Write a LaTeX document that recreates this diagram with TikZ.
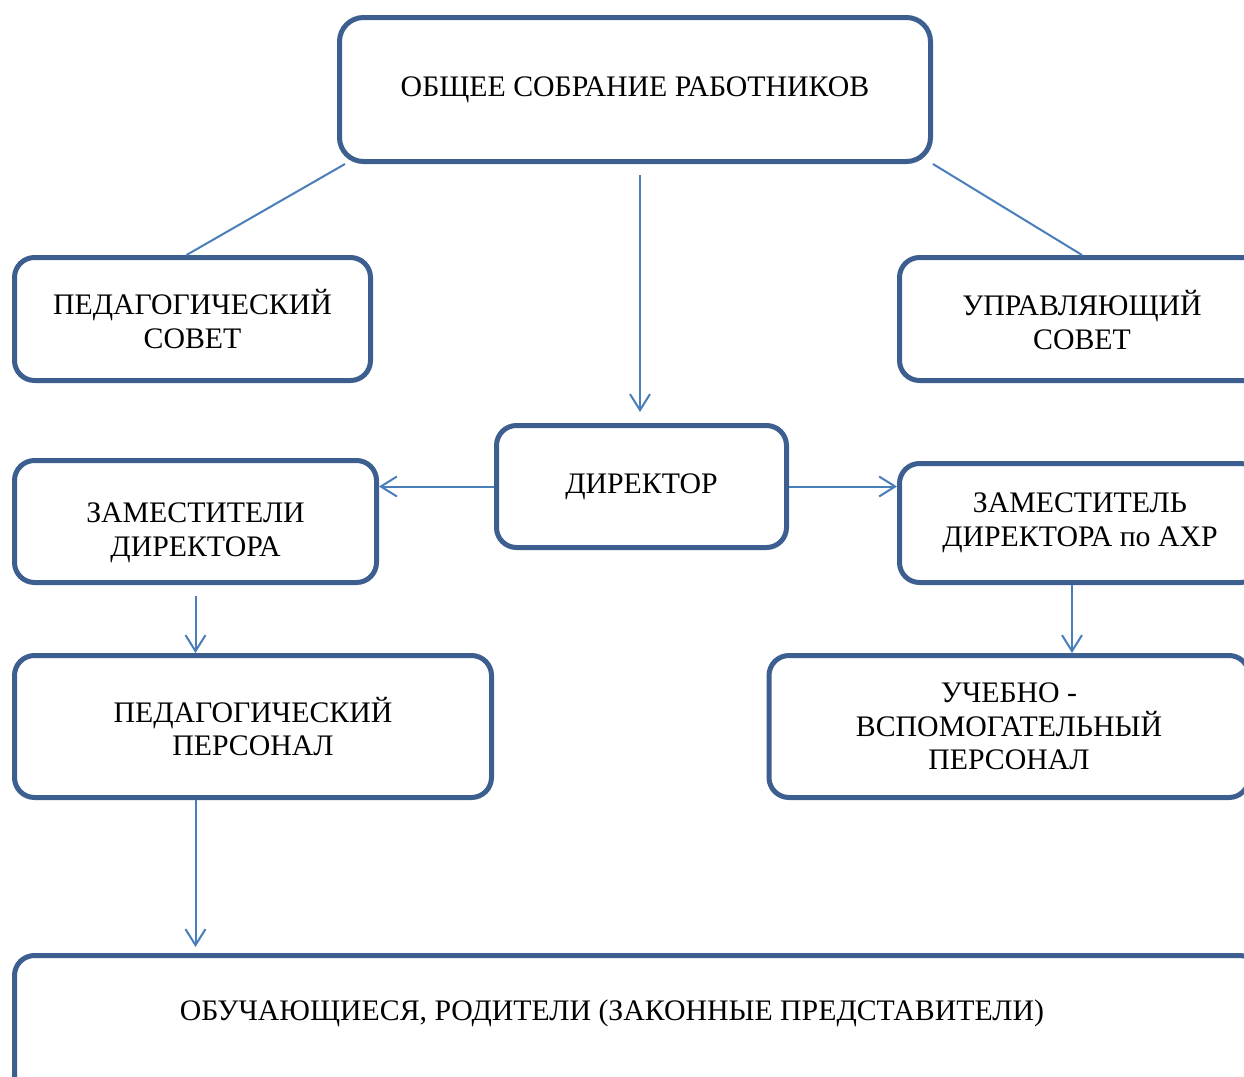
\documentclass[tikz,border=0pt]{standalone}
\usepackage{fontspec}
\setmainfont{Liberation Serif}
\usetikzlibrary{arrows.meta,calc}
\definecolor{boxblue}{HTML}{3C5F8F}
\definecolor{lineblue}{HTML}{4A7EBB}
\newcommand{\lowered}[2]{\raisebox{#1}[\height][\depth]{\begin{tabular}{@{}c@{}}#2\end{tabular}}}
\begin{document}
\begin{tikzpicture}[x=0.5pt,y=-0.5pt,
  box/.style={draw=boxblue, line width=2.5pt, rounded corners=10pt, align=center,
    font=\fontsize{14.9}{16.8}\selectfont, inner sep=0pt},
  link/.style={draw=lineblue, line width=1pt},
  arr/.style={link, -{Straight Barb[length=8pt,width=10pt,line width=1pt]}}]
\useasboundingbox (0,0) rectangle (1244,1077);
\clip (0,0) rectangle (1244,1077);
\node[box, rounded corners=12pt, minimum width=295.5pt, minimum height=72pt] (b1) at (635,89.5) {ОБЩЕЕ СОБРАНИЕ РАБОТНИКОВ};
\node[box, minimum width=178pt, minimum height=61.5pt] (b2) at (192.5,319) {ПЕДАГОГИЧЕСКИЙ\\СОВЕТ};
\node[box, minimum width=182.5pt, minimum height=61.5pt] (b3) at (1082,319) {\lowered{-3pt}{УПРАВЛЯЮЩИЙ\\СОВЕТ}};
\node[box, minimum width=145pt, minimum height=61pt] (b4) at (641.5,486.5) {ДИРЕКТОР};
\node[box, minimum width=181pt, minimum height=61pt] (b5) at (195.5,521.5) {\lowered{-5.5pt}{ЗАМЕСТИТЕЛИ\\ДИРЕКТОРА}};
\node[box, minimum width=180.5pt, minimum height=59.5pt] (b6) at (1080,523) {ЗАМЕСТИТЕЛЬ\\ДИРЕКТОРА по АХР};
\node[box, minimum width=238.5pt, minimum height=71pt] (b7) at (253,726.5) {ПЕДАГОГИЧЕСКИЙ\\ПЕРСОНАЛ};
\node[box, minimum width=240pt, minimum height=71pt] (b8) at (1009,726.5) {УЧЕБНО -\\ВСПОМОГАТЕЛЬНЫЙ\\ПЕРСОНАЛ};
\node[box, minimum width=622.5pt, minimum height=71pt] (b9) at (637,1026.5) {};
\node[font=\fontsize{14.9}{16.8}\selectfont, inner sep=0pt] (t9) at (612,1013) {ОБУЧАЮЩИЕСЯ, РОДИТЕЛИ (ЗАКОННЫЕ ПРЕДСТАВИТЕЛИ)};
% connectors
\draw[link] ([xshift=4pt]b1.south west) -- ([xshift=-3pt]b2.north);
\draw[link] (b1.south east) -- (b3.north);
\draw[arr, shorten <=5.5pt, shorten >=5.5pt] (b1.south -| 640,0) -- (b4.north -| 640,0);
\draw[arr] (b4.west) -- (b4.west -| b5.east);
\draw[arr] (b4.east) -- (b4.east -| b6.west);
\draw[arr, shorten <=5.5pt] (b5.south) -- (b7.north -| b5.south);
\draw[arr] ([xshift=-4pt]b6.south) -- ([xshift=-4pt]b6.south |- b8.north);
\draw[arr, shorten >=3pt] (b7.south -| b5.south) -- (b9.north -| b5.south);
\end{tikzpicture}
\end{document}
